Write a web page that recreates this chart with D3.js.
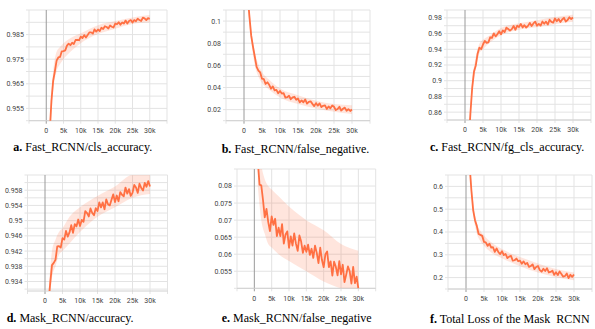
<!DOCTYPE html>
<html>
<head>
<meta charset="utf-8">
<script src="https://cdn.jsdelivr.net/npm/d3@7"></script>
<style>
  body { margin: 0; background: #fff; }
  svg { display: block; }
</style>
</head>
<body>
<svg id="chart" width="595" height="329"></svg>
<script>
// training steps, in thousands
const stepsK = [1, 1.5, 2, 2.5, 3, 3.5, 4, 4.5, 5, 5.5, 6, 6.5, 7, 7.5, 8, 8.5, 9, 9.5, 10,
  10.5, 11, 11.5, 12, 12.5, 13, 13.5, 14, 14.5, 15, 15.5, 16, 16.5, 17, 17.5, 18, 18.5, 19, 19.5, 20,
  20.5, 21, 21.5, 22, 22.5, 23, 23.5, 24, 24.5, 25, 25.5, 26, 26.5, 27, 27.5, 28, 28.5, 29, 29.5, 30];

// smoothed curves (noise included)
const clsAccuracy = [0.9450, 0.9580, 0.9662, 0.9701, 0.9744, 0.9757, 0.9759, 0.9782, 0.9783, 0.9786, 0.9805, 0.9813, 0.9807, 0.9817, 0.9812, 0.9828, 0.9829, 0.9827, 0.9842,
  0.9836, 0.9848, 0.9838, 0.9848, 0.9859, 0.9859, 0.9854, 0.9871, 0.9862, 0.9871, 0.9864, 0.9878, 0.9873, 0.9884, 0.9881, 0.9875, 0.9887, 0.9882, 0.9879, 0.9895,
  0.9892, 0.9900, 0.9890, 0.9899, 0.9895, 0.9907, 0.9895, 0.9905, 0.9909, 0.9899, 0.9909, 0.9904, 0.9915, 0.9909, 0.9905, 0.9919, 0.9916, 0.9909, 0.9917, 0.9914];
const falseNegative = [0.1244, 0.1044, 0.0868, 0.0768, 0.0678, 0.0586, 0.0553, 0.0536, 0.0480, 0.0476, 0.0432, 0.0447, 0.0424, 0.0389, 0.0410, 0.0374, 0.0378, 0.0348, 0.0368,
  0.0345, 0.0349, 0.0308, 0.0312, 0.0325, 0.0294, 0.0310, 0.0316, 0.0289, 0.0300, 0.0266, 0.0284, 0.0266, 0.0292, 0.0254, 0.0271, 0.0275, 0.0252, 0.0232, 0.0259,
  0.0236, 0.0256, 0.0223, 0.0234, 0.0239, 0.0206, 0.0229, 0.0212, 0.0237, 0.0226, 0.0196, 0.0206, 0.0226, 0.0192, 0.0208, 0.0218, 0.0190, 0.0205, 0.0188, 0.0201];
const fgClsAccuracy = [0.8200, 0.8580, 0.8910, 0.9116, 0.9194, 0.9344, 0.9422, 0.9401, 0.9461, 0.9506, 0.9481, 0.9488, 0.9553, 0.9545, 0.9602, 0.9564, 0.9592, 0.9629, 0.9591,
  0.9640, 0.9618, 0.9676, 0.9658, 0.9637, 0.9657, 0.9697, 0.9648, 0.9701, 0.9684, 0.9722, 0.9678, 0.9707, 0.9676, 0.9698, 0.9736, 0.9697, 0.9729, 0.9751, 0.9700,
  0.9723, 0.9701, 0.9753, 0.9725, 0.9752, 0.9714, 0.9776, 0.9749, 0.9740, 0.9792, 0.9757, 0.9786, 0.9747, 0.9779, 0.9801, 0.9753, 0.9772, 0.9807, 0.9785, 0.9804];
const maskAccuracy = [0.9284, 0.9337, 0.9383, 0.9389, 0.9397, 0.9432, 0.9433, 0.9429, 0.9454, 0.9450, 0.9473, 0.9458, 0.9469, 0.9488, 0.9468, 0.9491, 0.9485, 0.9503, 0.9486,
  0.9502, 0.9497, 0.9525, 0.9520, 0.9511, 0.9532, 0.9520, 0.9514, 0.9533, 0.9525, 0.9548, 0.9535, 0.9548, 0.9530, 0.9556, 0.9543, 0.9540, 0.9555, 0.9569, 0.9549,
  0.9566, 0.9551, 0.9575, 0.9568, 0.9564, 0.9587, 0.9571, 0.9583, 0.9565, 0.9573, 0.9594, 0.9587, 0.9573, 0.9597, 0.9586, 0.9579, 0.9599, 0.9589, 0.9604, 0.9590];
const maskFalseNegative = [0.0873, 0.0804, 0.0802, 0.0759, 0.0708, 0.0733, 0.0695, 0.0668, 0.0711, 0.0686, 0.0704, 0.0653, 0.0678, 0.0653, 0.0688, 0.0631, 0.0658, 0.0667, 0.0619,
  0.0652, 0.0625, 0.0661, 0.0631, 0.0610, 0.0655, 0.0637, 0.0604, 0.0625, 0.0607, 0.0628, 0.0598, 0.0616, 0.0589, 0.0625, 0.0604, 0.0574, 0.0619, 0.0583, 0.0562,
  0.0600, 0.0608, 0.0562, 0.0579, 0.0537, 0.0578, 0.0563, 0.0538, 0.0580, 0.0541, 0.0569, 0.0518, 0.0540, 0.0564, 0.0550, 0.0514, 0.0563, 0.0515, 0.0534, 0.0499];
const totalLoss = [0.6934, 0.5822, 0.4951, 0.4517, 0.4268, 0.3915, 0.3874, 0.3830, 0.3563, 0.3549, 0.3391, 0.3486, 0.3316, 0.3333, 0.3130, 0.3278, 0.3118, 0.3034, 0.3159,
  0.2987, 0.3035, 0.2857, 0.2921, 0.2952, 0.2741, 0.2761, 0.2836, 0.2718, 0.2743, 0.2610, 0.2712, 0.2587, 0.2645, 0.2472, 0.2508, 0.2577, 0.2371, 0.2467, 0.2508,
  0.2329, 0.2260, 0.2389, 0.2287, 0.2410, 0.2225, 0.2249, 0.2306, 0.2121, 0.2233, 0.2108, 0.2269, 0.2161, 0.2042, 0.2071, 0.2177, 0.1975, 0.2125, 0.2033, 0.2139];

// spread of the raw (unsmoothed) values
const rawStepsK = [1, 2, 3, 4, 5, 7, 10, 15, 20, 25, 30];
const clsAccuracyLo = [0.940, 0.962, 0.970, 0.973, 0.975, 0.978, 0.9815, 0.9852, 0.9874, 0.9893, 0.9900];
const clsAccuracyHi = [0.950, 0.970, 0.978, 0.980, 0.9815, 0.9835, 0.9855, 0.9888, 0.9905, 0.9920, 0.9930];
const falseNegativeLo = [0.115, 0.082, 0.060, 0.050, 0.044, 0.038, 0.031, 0.025, 0.021, 0.018, 0.016];
const falseNegativeHi = [0.135, 0.094, 0.072, 0.061, 0.054, 0.047, 0.039, 0.033, 0.028, 0.025, 0.024];
const fgClsAccuracyLo = [0.810, 0.885, 0.915, 0.935, 0.940, 0.949, 0.958, 0.965, 0.968, 0.972, 0.975];
const fgClsAccuracyHi = [0.830, 0.900, 0.930, 0.947, 0.952, 0.958, 0.967, 0.973, 0.977, 0.981, 0.984];
const maskAccuracyLo = [0.925, 0.935, 0.938, 0.941, 0.942, 0.944, 0.947, 0.951, 0.9535, 0.956, 0.957];
const maskAccuracyHi = [0.931, 0.942, 0.945, 0.947, 0.948, 0.951, 0.9535, 0.9565, 0.959, 0.962, 0.962];
const maskFalseNegativeLo = [0.080, 0.070, 0.066, 0.063, 0.062, 0.060, 0.058, 0.055, 0.052, 0.050, 0.049];
const maskFalseNegativeHi = [0.092, 0.086, 0.082, 0.080, 0.079, 0.077, 0.074, 0.070, 0.067, 0.063, 0.061];
const totalLossLo = [0.68, 0.48, 0.395, 0.36, 0.34, 0.31, 0.285, 0.25, 0.222, 0.202, 0.188];
const totalLossHi = [0.72, 0.53, 0.44, 0.405, 0.385, 0.355, 0.325, 0.29, 0.262, 0.238, 0.222];

// axis ticks
const xTicks = [0, 5000, 10000, 15000, 20000, 25000, 30000];
const xTickLabels = ["0", "5k", "10k", "15k", "20k", "25k", "30k"];
const clsAccuracyTicks = [0.955, 0.965, 0.975, 0.985];
const falseNegativeTicks = [0.02, 0.04, 0.06, 0.08, 0.1];
const fgClsAccuracyTicks = [0.86, 0.88, 0.9, 0.92, 0.94, 0.96, 0.98];
const maskAccuracyTicks = [0.934, 0.938, 0.942, 0.946, 0.95, 0.954, 0.958];
const maskFalseNegativeTicks = [0.055, 0.06, 0.065, 0.07, 0.075, 0.08];
const totalLossTicks = [0.2, 0.3, 0.4, 0.5, 0.6];

const captions = [
  ["a.", " Fast_RCNN/cls_accuracy."],
  ["b.", " Fast_RCNN/false_negative."],
  ["c.", " Fast_RCNN/fg_cls_accuracy."],
  ["d.", " Mask_RCNN/accuracy."],
  ["e.", " Mask_RCNN/false_negative"],
  ["f.", " Total Loss of the Mask  RCNN"]
];

// layout: box = [left, right, top, bottom], cap = [x, baseline]
const panels = [
  { values: clsAccuracy, lo: clsAccuracyLo, hi: clsAccuracyHi, ticks: clsAccuracyTicks,
    domain: [0.95, 0.995], grid: 0.005, box: [29, 167, 10, 120.7], cap: [13.3, 150.5] },
  { values: falseNegative, lo: falseNegativeLo, hi: falseNegativeHi, ticks: falseNegativeTicks,
    domain: [0.01, 0.11], grid: 0.01, box: [226, 370, 10, 120.7], cap: [221.7, 153] },
  { values: fgClsAccuracy, lo: fgClsAccuracyLo, hi: fgClsAccuracyHi, ticks: fgClsAccuracyTicks,
    domain: [0.85, 0.99], grid: 0.01, box: [447, 591, 10, 120], cap: [430, 150.5] },
  { values: maskAccuracy, lo: maskAccuracyLo, hi: maskAccuracyHi, ticks: maskAccuracyTicks,
    domain: [0.9315, 0.962], grid: 0.002, box: [27.5, 167.5, 175, 291], cap: [6.7, 321.5] },
  { values: maskFalseNegative, lo: maskFalseNegativeLo, hi: maskFalseNegativeHi, ticks: maskFalseNegativeTicks,
    domain: [0.05, 0.085], grid: 0.005, box: [237, 375.7, 169, 288.3], cap: [221.7, 322] },
  { values: totalLoss, lo: totalLossLo, hi: totalLossHi, ticks: totalLossTicks,
    domain: [0.15, 0.65], grid: 0.05, box: [448, 592, 175, 289], cap: [430, 323] }
];

const svg = d3.select("#chart");
const orange = "#ff7043";

panels.forEach((p, i) => {
  const [x0, x1, y0, y1] = p.box;
  const x = d3.scaleLinear().domain([-5000, 35000]).range([x0, x1]);
  const y = d3.scaleLinear().domain(p.domain).range([y1, y0]);
  const g = svg.append("g");

  // horizontal grid
  const first = Math.ceil(p.domain[0] / p.grid - 1e-6) * p.grid;
  const gy = d3.range(first, p.domain[1] + 1e-9, p.grid);
  g.selectAll(".hg").data(gy).join("line")
    .attr("x1", x0 - 3).attr("x2", x1)
    .attr("y1", d => y(d)).attr("y2", d => y(d))
    .attr("stroke", "#e3e3e3").attr("stroke-width", 1);

  // vertical grid
  const gx = d3.range(-5000, 35001, 5000);
  g.selectAll(".vg").data(gx).join("line")
    .attr("x1", d => x(d)).attr("x2", d => x(d))
    .attr("y1", y0).attr("y2", y1 + 3)
    .attr("stroke", d => d === 0 ? "#9a9a9a" : "#e3e3e3").attr("stroke-width", 1);

  // bottom axis line
  g.append("line").attr("x1", x0).attr("x2", x1).attr("y1", y1).attr("y2", y1)
    .attr("stroke", "#d0d0d0");

  // y labels
  g.selectAll(".yl").data(p.ticks).join("text")
    .attr("x", x0 - 5).attr("y", d => y(d)).attr("dy", "0.35em")
    .attr("text-anchor", "end")
    .attr("font-family", "Roboto, sans-serif").attr("font-size", 7).attr("fill", "#444")
    .text(d => String(+d.toFixed(4)));

  // x labels
  g.selectAll(".xl").data(xTicks).join("text")
    .attr("x", d => x(d)).attr("y", y1 + 10).attr("dy", "0.35em")
    .attr("text-anchor", "middle")
    .attr("font-family", "Roboto, sans-serif").attr("font-size", 7).attr("fill", "#444")
    .text((d, j) => xTickLabels[j]);

  // data, clipped to the plot
  const clipId = "clip" + i;
  svg.append("clipPath").attr("id", clipId).append("rect")
    .attr("x", x0).attr("y", y0).attr("width", x1 - x0).attr("height", y1 - y0);
  const plot = g.append("g").attr("clip-path", `url(#${clipId})`);

  const band = d3.area()
    .x((d, j) => x(rawStepsK[j] * 1000))
    .y0((d, j) => y(p.lo[j]))
    .y1((d, j) => y(p.hi[j]))
    .curve(d3.curveMonotoneX);
  plot.append("path").datum(p.lo).attr("d", band)
    .attr("fill", orange).attr("opacity", 0.18);

  const line = d3.line()
    .x((d, j) => x(stepsK[j] * 1000))
    .y(d => y(d));
  plot.append("path").datum(p.values).attr("d", line)
    .attr("fill", "none").attr("stroke", orange)
    .attr("stroke-width", 1.8).attr("stroke-linejoin", "round");

  // caption
  const t = svg.append("text")
    .attr("x", p.cap[0]).attr("y", p.cap[1])
    .attr("font-family", "'Liberation Serif', 'Times New Roman', serif")
    .attr("font-size", 12).attr("fill", "#000");
  t.append("tspan").attr("font-weight", "bold").text(captions[i][0]);
  t.append("tspan").style("white-space", "pre").text(captions[i][1]);
});
</script>
</body>
</html>
